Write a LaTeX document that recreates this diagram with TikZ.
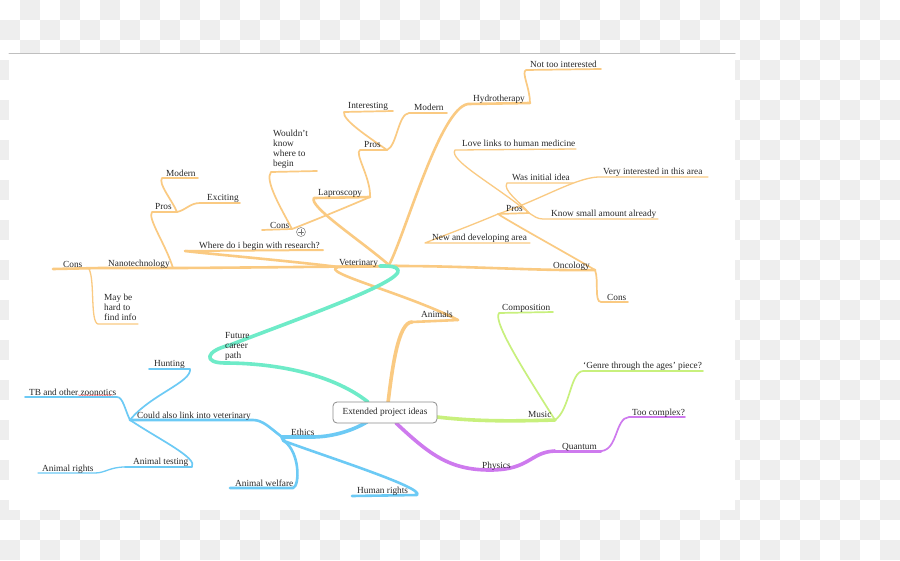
\documentclass[tikz,border=0pt]{standalone}
\usepackage{fontspec}
\setmainfont{Liberation Serif}
\usetikzlibrary{decorations.pathmorphing}
\definecolor{chk}{RGB}{238,238,238}
\definecolor{cor}{RGB}{250,202,130}
\definecolor{cte}{RGB}{110,235,200}
\definecolor{cbl}{RGB}{108,202,245}
\definecolor{cgr}{RGB}{200,240,125}
\definecolor{cpu}{RGB}{206,122,238}
\definecolor{ctx}{RGB}{40,40,40}
\begin{document}
\begin{tikzpicture}[x=1pt,y=-1pt,line cap=round,line join=round,
  lbl/.style={font=\fontsize{9.3}{10}\selectfont,anchor=base west,inner sep=0pt,text=ctx},
  lblm/.style={font=\fontsize{9.3}{10}\selectfont,anchor=north west,inner sep=0pt,text=ctx,align=left},
  wa/.style={line width=3.6pt},
  wb/.style={line width=2.6pt},
  wc/.style={line width=1.7pt},
  wd/.style={line width=1.3pt},
  or/.style={draw=cor},
  te/.style={draw=cte},
  bl/.style={draw=cbl},
  gr/.style={draw=cgr},
  pu/.style={draw=cpu}]
\useasboundingbox (0,0) rectangle (900,560);
% background checkerboard
\fill[white] (0,0) rectangle (900,560);
\foreach \i in {0,...,44}{\foreach \j in {0,...,27}{%
  \pgfmathtruncatemacro\p{mod(\i+\j,2)}%
  \ifnum\p=1 \fill[chk] (\i*20,\j*20) rectangle ++(20,20);\fi}}
\fill[white] (9,53) rectangle (735,510);
\draw[black!25,line width=1pt] (9,53) -- (735,53);

% ---------- coordinates ----------
% orange
\coordinate (anS) at (388,403);
\coordinate (anL) at (412,322); \coordinate (anR) at (458,320);
\coordinate (veL) at (338,267); \coordinate (veR) at (397,266); \coordinate (veH) at (389,265);
\coordinate (hyL) at (468,104); \coordinate (hyR) at (530,103);
\coordinate (ntL) at (526,70); \coordinate (ntR) at (601,69);
\coordinate (laL) at (314,198); \coordinate (laR) at (370,197);
\coordinate (lpL) at (360,150); \coordinate (lpR) at (387,150);
\coordinate (inL) at (344,112); \coordinate (inR) at (393,111);
\coordinate (lmL) at (409,113); \coordinate (lmR) at (447,113);
\coordinate (lcR) at (292,229); \coordinate (lcL) at (262,230);
\coordinate (woL) at (271,172); \coordinate (woR) at (317,171);
\coordinate (whL) at (185,251); \coordinate (whR) at (323,250);
\coordinate (naR) at (173,268); \coordinate (naL) at (100,268);
\coordinate (ncM) at (89,269); \coordinate (ncL) at (53,269);
\coordinate (mbL) at (98,324); \coordinate (mbR) at (138,324);
\coordinate (npL) at (152,212); \coordinate (npR) at (177,212);
\coordinate (nmL) at (162,178); \coordinate (nmR) at (198,178);
\coordinate (exL) at (200,203); \coordinate (exR) at (240,203);
\coordinate (onR) at (595,270);
\coordinate (ocL) at (601,302); \coordinate (ocR) at (628,302);
\coordinate (opL) at (498,214); \coordinate (opR) at (529,213);
\coordinate (wiL) at (507,183); \coordinate (wiR) at (573,183);
\coordinate (loL) at (455,150); \coordinate (loR) at (576,149);
\coordinate (ksL) at (543,219); \coordinate (ksR) at (658,219);
\coordinate (viL) at (598,177); \coordinate (viR) at (708,177);
\coordinate (ndL) at (425,243); \coordinate (ndR) at (530,243);
% teal
\coordinate (teS) at (368,402); \coordinate (fuH) at (225,363);
\coordinate (fuM) at (230,345); \coordinate (veT) at (380,266);
% blue
\coordinate (etS) at (367,422); \coordinate (etR) at (312,437); \coordinate (etL) at (282,437);
\coordinate (etB) at (284,441);
\coordinate (coR) at (253,420); \coordinate (coL) at (130,420);
\coordinate (huR) at (190,369); \coordinate (huL) at (149,369);
\coordinate (tbR) at (117,397); \coordinate (tbL) at (25,397);
\coordinate (atR) at (192,467); \coordinate (atL) at (125,467);
\coordinate (arR) at (95,473); \coordinate (arL) at (38,473);
\coordinate (awR) at (293,488); \coordinate (awL) at (230,488);
\coordinate (hrR) at (417,495); \coordinate (hrL) at (352,496);
% green
\coordinate (muS) at (437,417); \coordinate (muR) at (555,420);
\coordinate (cpL) at (499,313); \coordinate (cpR) at (553,312);
\coordinate (geL) at (583,371); \coordinate (geR) at (703,371);
% purple
\coordinate (phS) at (396,423); \coordinate (phM) at (490,470);
\coordinate (quL) at (555,451); \coordinate (quR) at (601,451);
\coordinate (tcL) at (629,417); \coordinate (tcR) at (685,417);

% ---------- orange branch ----------
\draw[or,wa] (anS) .. controls (392,370) and (398,322) .. (anL);
\draw[or,wb] (anL) -- (anR);
\draw[or,wb] (anR) .. controls (405,293) and (318,272) .. (veL) -- (veR);
\draw[or,wb] (veH) .. controls (405,235) and (440,108) .. (hyL) -- (hyR);
\draw[or,wc] (hyR) .. controls (530,88) and (521,72) .. (ntL) -- (ntR);
\draw[or,wb] (veH) .. controls (360,240) and (308,206) .. (laL) -- (laR);
\draw[or,wc] (laR) .. controls (371,178) and (354,153) .. (lpL) -- (lpR);
\draw[or,wc] (lpR) .. controls (370,138) and (342,120) .. (inL) -- (inR);
\draw[or,wc] (lpR) .. controls (397,146) and (398,114) .. (lmL) -- (lmR);
\draw[or,wc] (laR) .. controls (340,210) and (300,226) .. (lcR) -- (lcL);
\draw[or,wc] (lcR) .. controls (282,210) and (264,180) .. (woL) -- (woR);
\draw[or,wb] (veL) .. controls (300,262) and (210,254) .. (whL);
\draw[or,line width=2pt] (whL) -- (whR);
\draw[or,wb] (veR) .. controls (300,267) and (200,268) .. (naR) -- (naL) -- (ncL);
\draw[or,wd] (ncM) .. controls (95,280) and (90,322) .. (mbL) -- (mbR);
\draw[or,wc] (naR) .. controls (166,245) and (147,218) .. (npL) -- (npR);
\draw[or,wc] (npR) .. controls (172,200) and (158,184) .. (nmL) -- (nmR);
\draw[or,wc] (npR) .. controls (186,210) and (190,203) .. (exL) -- (exR);
\draw[or,wb] (veR) .. controls (470,266) and (540,271) .. (onR);
\draw[or,wc] (onR) .. controls (599,280) and (594,302) .. (ocL) -- (ocR);
\draw[or,wc] (onR) .. controls (575,258) and (510,222) .. (opL) -- (opR);
\draw[or,wd] (opR) .. controls (520,202) and (502,190) .. (wiL) -- (wiR);
\draw[or,wd] (opR) .. controls (495,185) and (448,160) .. (loL) -- (loR);
\draw[or,wd] (opR) .. controls (534,216) and (537,219) .. (ksL) -- (ksR);
\draw[or,wd] (opL) .. controls (540,200) and (575,178) .. (viL) -- (viR);
\draw[or,wd] (opL) .. controls (470,226) and (432,240) .. (ndL) -- (ndR);
% expand icon
\node[circle,draw=black!45,line width=0.6pt,minimum size=9pt,inner sep=0pt] (plus) at (301,232) {};
\draw[black!55,line width=0.6pt] ([xshift=-2.5pt]plus.center) -- ([xshift=2.5pt]plus.center)
  ([yshift=-2.5pt]plus.center) -- ([yshift=2.5pt]plus.center);

% ---------- teal branch ----------
\draw[te,wa] (teS) .. controls (330,372) and (270,363) .. (fuH)
  .. controls (203,363) and (205,351) .. (fuM)
  .. controls (300,318) and (403,282) .. (398,270)
  .. controls (396,266) and (390,266) .. (veT);

% ---------- blue branch ----------
\draw[bl,wa] (etS) .. controls (350,432) and (330,437) .. (etR) -- (etL) -- (etB);
\draw[bl,wb] (etL) .. controls (270,428) and (263,420) .. (coR) -- (coL);
\draw[bl,wc] (coL) .. controls (150,395) and (192,382) .. (huR) -- (huL);
\draw[bl,wc] (coL) .. controls (125,410) and (123,397) .. (tbR) -- (tbL);
\draw[bl,wc] (coL) .. controls (160,440) and (198,458) .. (atR) -- (atL);
\draw[bl,wd] (atL) .. controls (110,467) and (105,473) .. (arR) -- (arL);
\draw[bl,wb] (etB) .. controls (300,452) and (300,486) .. (awR) -- (awL);
\draw[bl,wb] (etB) .. controls (330,458) and (425,488) .. (hrR) -- (hrL);

% ---------- green branch ----------
\draw[gr,wa] (muS) .. controls (480,422) and (520,421) .. (muR);
\draw[gr,wc] (muR) .. controls (530,380) and (492,322) .. (cpL) -- (cpR);
\draw[gr,wc] (muR) .. controls (570,410) and (570,372) .. (geL) -- (geR);

% ---------- purple branch ----------
\draw[pu,wa] (phS) .. controls (430,455) and (450,470) .. (phM)
  .. controls (530,470) and (530,452) .. (quL);
\draw[pu,line width=3pt] (quL) -- (quR);
\draw[pu,wc] (quR) .. controls (618,450) and (615,418) .. (tcL) -- (tcR);

% ---------- root ----------
\node[draw=black!45,line width=0.8pt,rounded corners=4pt,fill=white,minimum width=104pt,
  minimum height=21pt,inner sep=0pt,font=\fontsize{9.3}{10}\selectfont,text=ctx] (root) at (385,412.5) {Extended project ideas};

% ---------- labels ----------
\node[lbl] (t-an) at (421,317) {Animals};
\node[lbl] (t-ve) at (339,265) {Veterinary};
\node[lbl] (t-hy) at (473,101) {Hydrotherapy};
\node[lbl] (t-nt) at (530,67) {Not too interested};
\node[lbl] (t-la) at (318,195) {Laproscopy};
\node[lbl] (t-lp) at (364,147) {Pros};
\node[lbl] (t-in) at (348,108) {Interesting};
\node[lbl] (t-lm) at (414,110) {Modern};
\node[lbl] (t-lc) at (270,228) {Cons};
\node[lblm] (t-wo) at (273,130) {Wouldn't\\know\\where to\\begin};
\node[lbl] (t-wh) at (199,248) {Where do i begin with research?};
\node[lbl] (t-na) at (108,266) {Nanotechnology};
\node[lbl] (t-np) at (155,209) {Pros};
\node[lbl] (t-nm) at (166,176) {Modern};
\node[lbl] (t-ex) at (207,200) {Exciting};
\node[lbl] (t-nc) at (63,267) {Cons};
\node[lblm] (t-mb) at (104,294) {May be\\hard to\\find info};
\node[lbl] (t-on) at (553,268) {Oncology};
\node[lbl] (t-oc) at (607,300) {Cons};
\node[lbl] (t-op) at (506,211) {Pros};
\node[lbl] (t-wi) at (512,180) {Was initial idea};
\node[lbl] (t-lo) at (462,146) {Love links to human medicine};
\node[lbl] (t-vi) at (603,174) {Very interested in this area};
\node[lbl] (t-ks) at (551,216) {Know small amount already};
\node[lbl] (t-nd) at (432,240) {New and developing area};
\node[lblm] (t-fu) at (225,332) {Future\\career\\path};
\node[lbl] (t-et) at (291,435) {Ethics};
\node[lbl] (t-co) at (137,418) {Could also link into veterinary};
\node[lbl] (t-hu) at (154,366) {Hunting};
\node[lbl] (t-tb) at (29,395) {TB and other zoonotics};
\draw[red!65,line width=0.35pt,decorate,decoration={snake,amplitude=0.6pt,segment length=2.5pt}] (78,395.2) -- (113,395.2);
\node[lbl] (t-at) at (133,464) {Animal testing};
\node[lbl] (t-ar) at (42,471) {Animal rights};
\node[lbl] (t-aw) at (235,486) {Animal welfare};
\node[lbl] (t-hr) at (357,493) {Human rights};
\node[lbl] (t-mu) at (528,417) {Music};
\node[lbl] (t-cp) at (502,310) {Composition};
\node[lbl] (t-ge) at (583,368) {‘Genre through the ages’ piece?};
\node[lbl] (t-ph) at (482,468) {Physics};
\node[lbl] (t-qu) at (562,449) {Quantum};
\node[lbl] (t-tc) at (632,415) {Too complex?};
\end{tikzpicture}
\end{document}
